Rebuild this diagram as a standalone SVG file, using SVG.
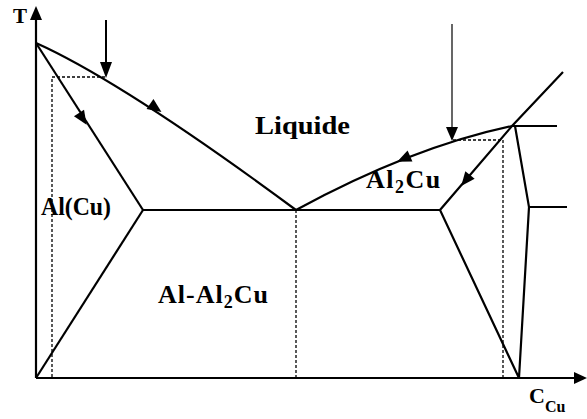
<svg xmlns="http://www.w3.org/2000/svg" width="587" height="419" viewBox="0 0 587 419">
<defs>
<style>
.ln{fill:none;stroke:#000;stroke-width:2.2}
.ds{fill:none;stroke:#000;stroke-width:1.3;stroke-dasharray:3,2}
.hd{fill:#000}
.tx{font-family:'Liberation Serif','DejaVu Serif',serif;font-weight:bold;fill:#000}
</style>
<path id="tri" d="M0,-6 L14,0 L0,6 z"/>
</defs>
<rect width="587" height="419" fill="#fff"/>
<g id="axes">
<line class="ln" x1="36" y1="378" x2="36" y2="18"/>
<path class="hd" d="M30,20 L36,6 L42,20 z"/>
<line class="ln" x1="36" y1="378" x2="576" y2="378"/>
<path class="hd" d="M574,372 L587,378 L574,384 z"/>
<text class="tx" x="13" y="23" font-size="21">T</text>
<text class="tx" x="529" y="403" font-size="22">C<tspan font-size="16" dy="9">Cu</tspan></text>
</g>
<g id="connectors">
<path class="ln" d="M36,43 Q123,82 296,210"/>
<line class="ln" x1="36" y1="43" x2="143" y2="210"/>
<line class="ln" x1="143" y1="210" x2="36" y2="378"/>
<line class="ln" x1="143" y1="210" x2="440" y2="210"/>
<path class="ln" d="M296,210 Q412,147 512,126"/>
<polyline class="ln" points="563,72 512,126 440,210 519,378 529,207 515,126"/>
<line class="ln" x1="512" y1="126" x2="557" y2="126"/>
<line class="ln" x1="529" y1="207" x2="567" y2="207"/>
<polyline class="ds" points="105,77 52,77 52,378"/>
<line class="ds" x1="296" y1="210" x2="296" y2="378"/>
<polyline class="ds" points="453,140 503,140 503,378"/>
<line x1="106" y1="20" x2="106" y2="64" stroke="#000" stroke-width="2"/>
<path class="hd" d="M100,62 L106,78 L112,62 z"/>
<line x1="452" y1="24" x2="452" y2="130" stroke="#000" stroke-width="1.2"/>
<path class="hd" d="M446,127 L452,141 L458,127 z"/>
<use href="#tri" class="hd" transform="translate(150,104) rotate(35)"/>
<use href="#tri" class="hd" transform="translate(79,113) rotate(57)"/>
<use href="#tri" class="hd" transform="translate(410,156) rotate(156)"/>
<use href="#tri" class="hd" transform="translate(470,175) rotate(129)"/>
</g>
<g id="labels">
<text class="tx" x="255" y="134" font-size="26" textLength="95" lengthAdjust="spacingAndGlyphs">Liquide</text>
<text class="tx" x="366" y="188" font-size="26" letter-spacing="1.5">Al<tspan font-size="18" dy="5">2</tspan><tspan dy="-5">Cu</tspan></text>
<text class="tx" x="41" y="215" font-size="25" textLength="70" lengthAdjust="spacingAndGlyphs">Al(Cu)</text>
<text class="tx" x="158" y="303" font-size="26" letter-spacing="1">Al-Al<tspan font-size="18" dy="5">2</tspan><tspan dy="-5">Cu</tspan></text>
</g>
</svg>
